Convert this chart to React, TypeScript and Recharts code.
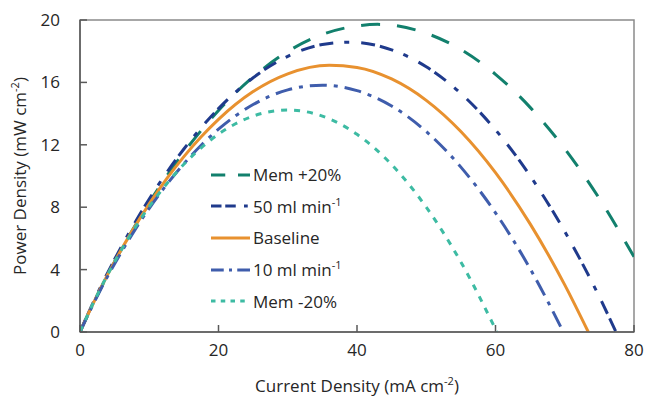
import React from 'react';
import { LineChart, Line, XAxis, YAxis, ReferenceArea, Legend } from 'recharts';

const xTicks = [0, 20, 40, 60, 80];
const yTicks = [0, 4, 8, 12, 16, 20];

const memPlusCurrent = [0, 1, 2, 3, 5, 7.5, 10, 12.5, 15, 17.5, 20, 25, 30, 35, 40, 43, 45, 50, 55, 60, 65, 70, 75, 80];
const memPlusPower = [0, 0.97, 1.9, 2.8, 4.51, 6.48, 8.3, 9.98, 11.52, 12.92, 14.2, 16.35, 17.98, 19.07, 19.62, 19.72, 19.67, 19.15, 18.11, 16.52, 14.4, 11.75, 8.55, 4.82];

const flow50Current = [0, 1, 2, 3, 5, 7.5, 10, 12.5, 15, 17.5, 20, 25, 30, 35, 39, 45, 50, 55, 60, 65, 70, 75, 77.4];
const flow50Power = [0, 1.01, 1.98, 2.91, 4.66, 6.68, 8.53, 10.21, 11.73, 13.1, 14.32, 16.3, 17.67, 18.43, 18.58, 18.09, 17.0, 15.29, 12.96, 10.01, 6.44, 2.25, 0];

const baselineCurrent = [0, 1, 2, 3, 5, 7.5, 10, 12.5, 15, 17.5, 20, 25, 30, 36, 40, 45, 50, 55, 60, 65, 70, 73.4];
const baselinePower = [0, 0.98, 1.92, 2.82, 4.51, 6.45, 8.21, 9.81, 11.24, 12.51, 13.63, 15.41, 16.55, 17.1, 16.96, 16.22, 14.85, 12.85, 10.21, 6.93, 3.02, 0];

const flow10Current = [0, 1, 2, 3, 5, 7.5, 10, 12.5, 15, 17.5, 20, 25, 30, 35, 40, 45, 50, 55, 60, 65, 69.8];
const flow10Power = [0, 0.95, 1.86, 2.74, 4.37, 6.24, 7.93, 9.44, 10.79, 11.97, 13.0, 14.58, 15.52, 15.82, 15.47, 14.49, 12.85, 10.57, 7.64, 4.06, 0];

const memMinusCurrent = [0, 1, 2, 3, 5, 7.5, 10, 12.5, 15, 17.5, 20, 25, 30, 35, 40, 45, 50, 55, 60.2];
const memMinusPower = [0, 0.99, 1.93, 2.83, 4.5, 6.38, 8.04, 9.49, 10.75, 11.81, 12.68, 13.84, 14.23, 13.84, 12.67, 10.73, 8.0, 4.49, 0];

const seriesLabels = ['Mem +20%', '50 ml min', 'Baseline', '10 ml min', 'Mem -20%'];
const seriesSups = ['', '-1', '', '-1', ''];

const toPoints = (xs: number[], ys: number[]) => xs.map((x, i) => ({ x, y: ys[i] }));

const series = [
  { key: 'memPlus', data: toPoints(memPlusCurrent, memPlusPower), color: '#12806D', dash: '19 17' },
  { key: 'flow50', data: toPoints(flow50Current, flow50Power), color: '#1F3A8C', dash: '14 5 14 11 5 12' },
  { key: 'baseline', data: toPoints(baselineCurrent, baselinePower), color: '#E8912F', dash: undefined as string | undefined },
  { key: 'flow10', data: toPoints(flow10Current, flow10Power), color: '#3F5DAC', dash: '17 7 4 7' },
  { key: 'memMinus', data: toPoints(memMinusCurrent, memMinusPower), color: '#3DBBA3', dash: '6 7' },
];

const FONT = '"Open Sans", "Noto Sans", sans-serif';
const TEXT = '#262626';
const AXIS = '#595959';

const XTick = (props: any) => {
  const { x, y, payload } = props;
  const margin = 12;
  return (
    <g>
      <line x1={x} x2={x} y1={y - margin} y2={y - margin - 7} stroke={AXIS} strokeWidth={1.5} />
      <text x={x} y={y} dy="0.71em" textAnchor="middle" fontFamily={FONT} fontSize={17} fill={TEXT}>
        {payload.value}
      </text>
    </g>
  );
};

const YTick = (props: any) => {
  const { x, y, payload } = props;
  const margin = 20;
  return (
    <g>
      <line x1={x + margin} x2={x + margin + 7} y1={y} y2={y} stroke={AXIS} strokeWidth={1.5} />
      <text x={x} y={y} dy="0.35em" textAnchor="end" fontFamily={FONT} fontSize={17} fill={TEXT}>
        {payload.value}
      </text>
    </g>
  );
};

const XTitle = (props: any) => {
  const vb = props.viewBox || {};
  const cx = vb.x + vb.width / 2;
  const cy = vb.y + 60;
  return (
    <text x={cx} y={cy} textAnchor="middle" fontFamily={FONT} fontSize={17} fill={TEXT}>
      <tspan>Current Density (mA cm</tspan>
      <tspan dy={-7} fontSize={11}>-2</tspan>
      <tspan dy={7}>)</tspan>
    </text>
  );
};

const YTitle = (props: any) => {
  const vb = props.viewBox || {};
  const cx = vb.x + 26;
  const cy = vb.y + vb.height / 2;
  return (
    <text x={cx} y={cy} textAnchor="middle" fontFamily={FONT} fontSize={17} fill={TEXT} transform={`rotate(-90 ${cx} ${cy})`}>
      <tspan>Power Density (mW cm</tspan>
      <tspan dy={-7} fontSize={11}>-2</tspan>
      <tspan dy={7}>)</tspan>
    </text>
  );
};

const LegendContent = () => (
  <div style={{ fontFamily: FONT, fontSize: 17, color: TEXT }}>
    {series.map((s, i) => (
      <div key={s.key} style={{ display: 'flex', alignItems: 'center', height: 31.6, whiteSpace: 'nowrap' }}>
        <svg width={42} height={10} style={{ display: 'block' }}>
          <line x1={0} x2={39} y1={5} y2={5} stroke={s.color} strokeWidth={3} strokeDasharray={s.dash ? s.dash.split(' ').map((v) => String(Number(v) * 0.75)).join(' ') : undefined} />
        </svg>
        <span>
          {seriesLabels[i]}
          {seriesSups[i] ? <sup style={{ fontSize: 11, verticalAlign: 'super', lineHeight: 0 }}>{seriesSups[i]}</sup> : null}
        </span>
      </div>
    ))}
  </div>
);

export default function App() {
  return (
    <div>
      <style>{'body{margin:0;background:#fff}'}</style>
      <LineChart width={646} height={399} margin={{ top: 20, right: 12, bottom: 0, left: 0 }}>
        <XAxis
          type="number"
          dataKey="x"
          domain={[0, 80]}
          ticks={xTicks}
          allowDataOverflow
          height={67}
          tickSize={0}
          tickMargin={12}
          tickLine={false}
          tick={<XTick />}
          axisLine={{ stroke: AXIS, strokeWidth: 1.5 }}
          label={{ content: XTitle }}
        />
        <YAxis
          type="number"
          dataKey="y"
          domain={[0, 20]}
          ticks={yTicks}
          allowDataOverflow
          width={80}
          tickSize={0}
          tickMargin={20}
          tickLine={false}
          tick={<YTick />}
          axisLine={{ stroke: AXIS, strokeWidth: 1.5 }}
          label={{ content: YTitle }}
        />
        <ReferenceArea x1={0} x2={80} y1={0} y2={20} fill="none" stroke="#8a8a8a" strokeWidth={1.5} ifOverflow="visible" />
        {series.map((s) => (
          <Line
            key={s.key}
            data={s.data}
            dataKey="y"
            type="monotone"
            stroke={s.color}
            strokeWidth={3}
            strokeDasharray={s.dash}
            dot={false}
            activeDot={false}
            isAnimationActive={false}
          />
        ))}
        <Legend
          layout="vertical"
          align="center"
          verticalAlign="middle"
          content={<LegendContent />}
          wrapperStyle={{ left: 211, top: 159, width: 'auto' }}
        />
      </LineChart>
    </div>
  );
}
